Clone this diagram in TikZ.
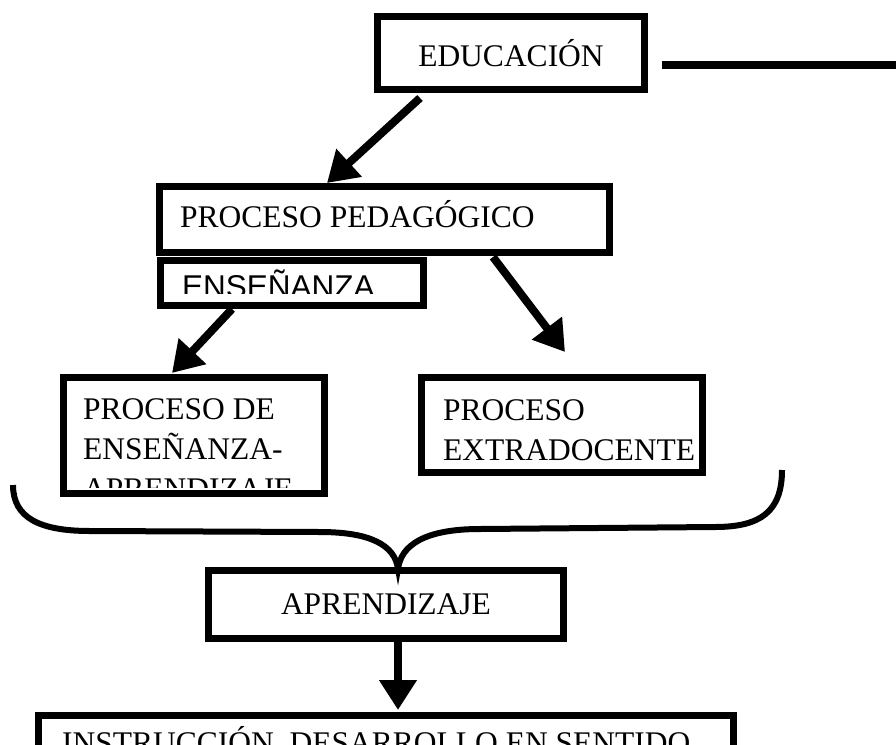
\documentclass[tikz,border=0pt]{standalone}
\usepackage{fontspec}
\setmainfont{Liberation Serif}
\setsansfont{Liberation Sans}
\usetikzlibrary{arrows.meta,calc}
\newcommand{\boxfont}{\fontsize{31.5}{40}\selectfont}
\begin{document}
\begin{tikzpicture}[x=1pt,y=-1pt,
	box/.style={draw,line width=7pt,inner sep=0pt,font=\boxfont},
	txt/.style={inner sep=0pt,font=\boxfont,align=left},
	link/.style={line width=8pt,-{Triangle[length=30pt,width=36pt]}}]
	\clip (0,0) rectangle (896,744);
	
	\node[box,minimum width=267pt,minimum height=73pt] (edu) at (511,53) {EDUCACIÓN};
	\node[box,minimum width=450pt,minimum height=66pt] (proc) at (384.5,219.5) {};
	\node[box,minimum width=263pt,minimum height=45pt] (ens) at (292,283) {};
	\node[box,minimum width=261pt,minimum height=116pt] (pea) at (194,435.5) {};
	\node[box,minimum width=281pt,minimum height=95pt] (ext) at (562,425) {};
	\node[box,minimum width=355pt,minimum height=68pt] (apr) at (386,604.5) {APRENDIZAJE};
	\node[box,minimum width=695pt,minimum height=71pt] (inst) at (386,751) {};
	
	\node[txt,anchor=base west] (proctext) at (180,227) {PROCESO PEDAGÓGICO};
	\begin{scope}
		\clip (160,260) rectangle (424,293);
		\node[txt,anchor=base west,font=\boxfont\sffamily] (enstext) at (182,297) {ENSEÑANZA};
	\end{scope}
	\begin{scope}
		\clip (64,378) rectangle (324,487);
		\node[txt,anchor=north west] (peatext) at (83,398) {PROCESO DE\\ENSEÑANZA-\\APRENDIZAJE};
	\end{scope}
	\node[txt,anchor=north west] (exttext) at (443,399) {PROCESO\\EXTRADOCENTE};
	\node[txt,anchor=base west] (insttext) at (62,753) {INSTRUCCIÓN, DESARROLLO EN SENTIDO};
	
	\draw[link] ($(edu.south west)+(46,5)$) -- ($(proc.north west)+(171,0)$);
	\draw[link] ($(ens.south west)+(75,0)$) -- ($(pea.north west)+(112,-1)$);
	\coordinate (extarrow) at ($(proc.south west)+(409,96)$);
	\draw[link] ($(proc.south west)+(337,1)$) -- (extarrow);
	\draw[link] ($(apr.south)+(12,0)$) -- ($(inst.north)+(12,-2)$);
	\coordinate (rightedge) at (900,65);
	\draw[line width=8pt] ($(edu.east)+(14,12)$) -- (rightedge);
	
	\draw[line width=6pt] (13,485) .. controls (13,518) and (40,531) .. (90,531)
		-- (320,532) .. controls (370,532) and (395,545) .. (398,569)
		.. controls (401,545) and (425,529) .. (480,529)
		-- (715,527) .. controls (760,527) and (782,512) .. (782,470);
\end{tikzpicture}
\end{document}
